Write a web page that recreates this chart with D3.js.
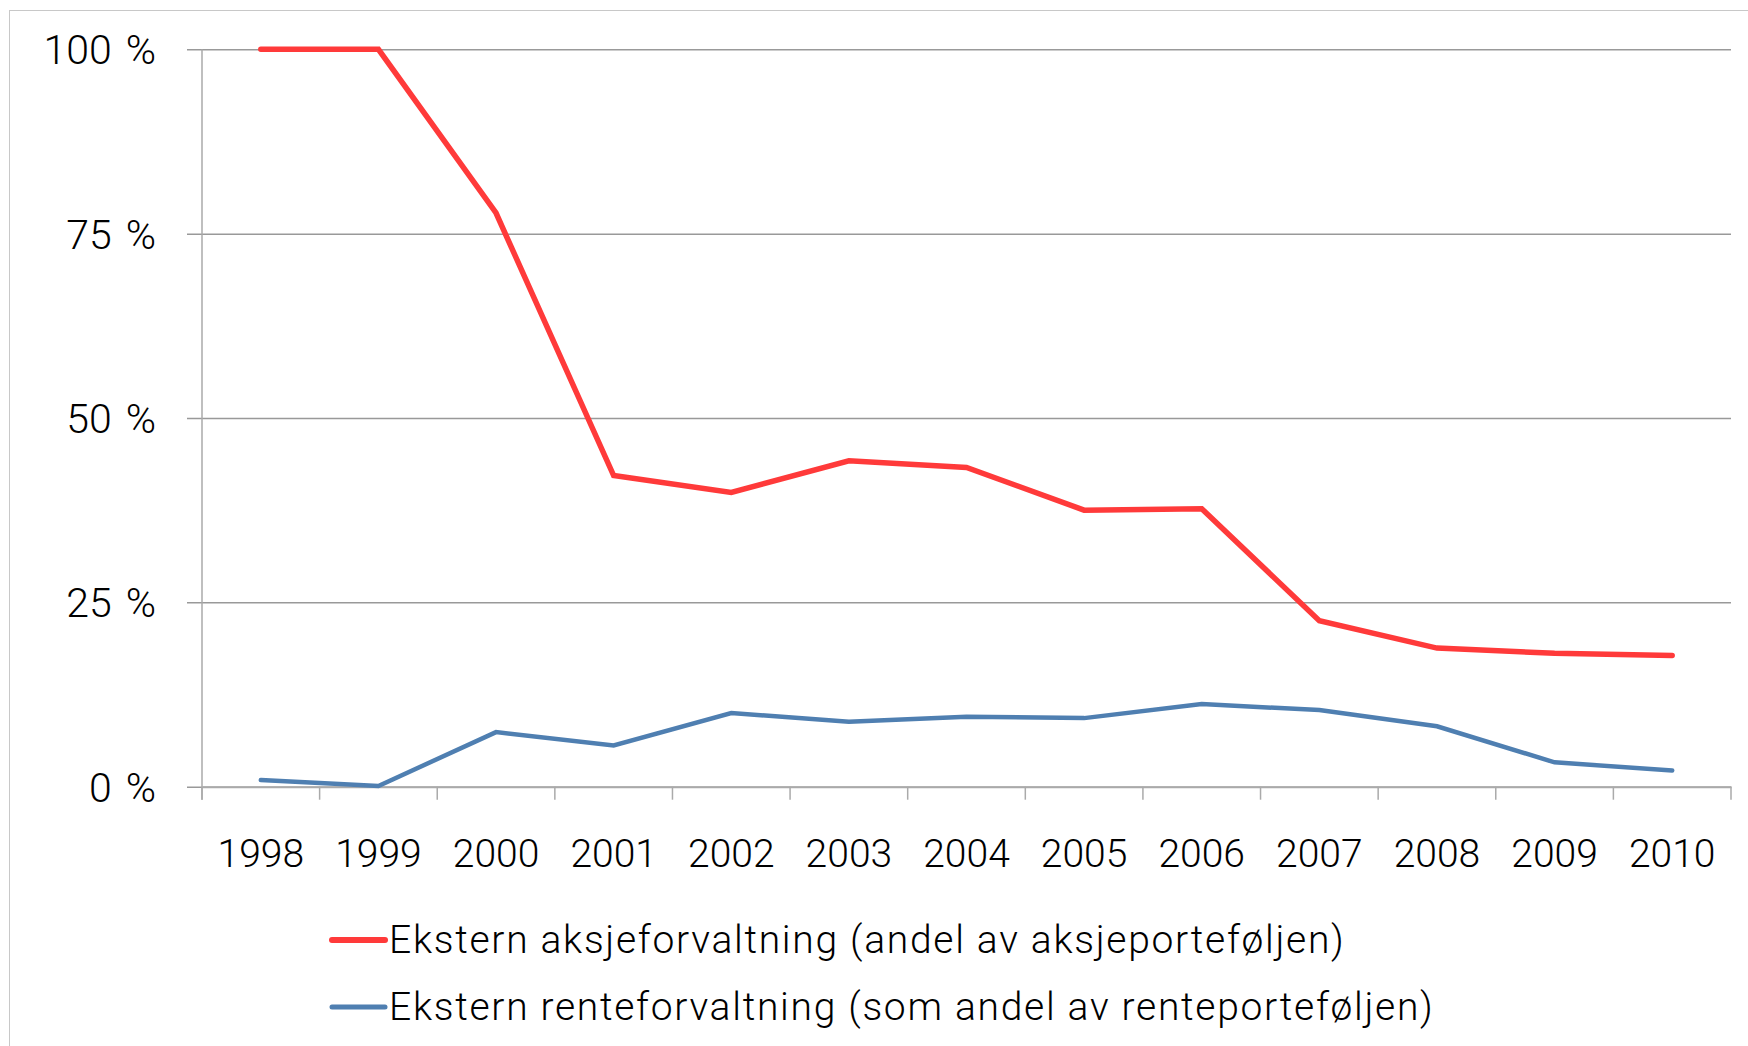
<!DOCTYPE html>
<html>
<head>
<meta charset="utf-8">
<script src="https://d3js.org/d3.v7.min.js"></script>
<style>
  body { margin: 0; background: #fff; }
  text { font-family: Roboto, "Liberation Sans", sans-serif; font-weight: 300; fill: #000; }
</style>
</head>
<body>
<svg id="chart" width="1748" height="1046"></svg>
<script>
// data
const years = ['1998','1999','2000','2001','2002','2003','2004','2005','2006','2007','2008','2009','2010'];
const aksjer = [100, 100, 77.8, 42.2, 39.9, 44.2, 43.3, 37.5, 37.7, 22.5, 18.8, 18.1, 17.8];
const renter = [0.9, 0.1, 7.4, 5.6, 10.0, 8.8, 9.5, 9.3, 11.2, 10.4, 8.2, 3.3, 2.2];
const yTicks = [0, 25, 50, 75, 100];
const seriesNames = ['Ekstern aksjeforvaltning (andel av aksjeporteføljen)',
                     'Ekstern renteforvaltning (som andel av renteporteføljen)'];
const seriesColors = ['#ff3a3a', '#4f7fb1'];

const svg = d3.select('#chart');
const font = 'Roboto, "Liberation Sans", sans-serif';

// outer frame (only top/left visible in the original)
svg.append('rect')
  .attr('x', 9.5).attr('y', 10.5)
  .attr('width', 1800).attr('height', 1100)
  .attr('fill', 'none').attr('stroke', '#c8c8c8').attr('stroke-width', 1);

const x = d3.scaleBand().domain(years).range([202, 1731]);
const y = d3.scaleLinear().domain([0, 100]).range([786.7, 49.3]);

// gridlines + y labels
const gy = svg.append('g').attr('transform', 'translate(202,0)')
  .call(d3.axisLeft(y).tickValues(yTicks).tickSize(-1529).tickSizeOuter(0).tickPadding(46));
gy.select('.domain').remove();
gy.selectAll('.tick line').attr('stroke', '#999').attr('stroke-width', 1.5).attr('x1', -15);
gy.selectAll('.tick text')
  .attr('font-size', 41).attr('dy', '0.35em').style('font-family', font)
  .text(d => d + ' ')
  .append('tspan').attr('dx', 4).text('%');

// y axis line
svg.append('line').attr('x1', 202).attr('x2', 202).attr('y1', y(100)).attr('y2', y(0) + 13)
  .attr('stroke', '#aaa').attr('stroke-width', 1.5);

// x axis with ticks between categories
const gx = svg.append('g').attr('transform', `translate(0,${y(0)})`)
  .call(d3.axisBottom(x).tickSize(0).tickPadding(53));
gx.select('.domain').attr('stroke', '#aaa').attr('stroke-width', 2);
gx.selectAll('.tick text').attr('font-size', 39).style('font-family', font);
svg.append('g').selectAll('line')
  .data(years.concat(['end']))
  .join('line')
  .attr('x1', (d, i) => i < years.length ? x(d) : x.range()[1])
  .attr('x2', (d, i) => i < years.length ? x(d) : x.range()[1])
  .attr('y1', y(0)).attr('y2', y(0) + 13)
  .attr('stroke', '#aaa').attr('stroke-width', 1.5);

// lines
const line = d3.line()
  .x((d, i) => x(years[i]) + x.bandwidth() / 2)
  .y(d => y(d));

[aksjer, renter].forEach((s, k) => {
  svg.append('path')
    .datum(s)
    .attr('d', line)
    .attr('fill', 'none')
    .attr('stroke', seriesColors[k])
    .attr('stroke-width', k === 0 ? 5.5 : 4.5)
    .attr('stroke-linejoin', 'miter')
    .attr('stroke-linecap', 'round');
});

// legend
const legend = svg.append('g');
const legendY = [940, 1007];
seriesNames.forEach((name, k) => {
  legend.append('line')
    .attr('x1', 332).attr('x2', 385)
    .attr('y1', legendY[k]).attr('y2', legendY[k])
    .attr('stroke', seriesColors[k])
    .attr('stroke-width', k === 0 ? 6 : 5)
    .attr('stroke-linecap', 'round');
  legend.append('text')
    .attr('x', 389).attr('y', legendY[k] + 13)
    .attr('font-size', 39)
    .style('letter-spacing', '1.7px')
    .text(name);
});
</script>
</body>
</html>
